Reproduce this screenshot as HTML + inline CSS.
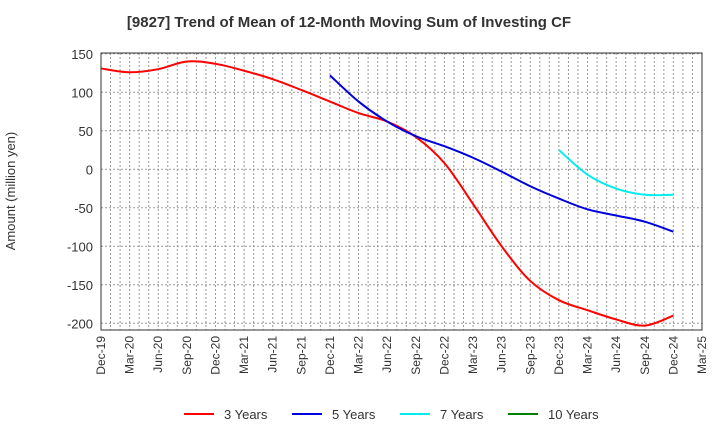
<!DOCTYPE html>
<html><head><meta charset="utf-8"><style>
body{margin:0;background:#fff;font-family:"Liberation Sans",sans-serif}
</style></head><body>
<svg id="c" width="720" height="440" xmlns="http://www.w3.org/2000/svg">
<text x="349" y="27" text-anchor="middle" font-size="15" font-weight="bold" fill="#333">[9827]  Trend of Mean of 12-Month Moving Sum of Investing CF</text>
<text transform="translate(15,191) rotate(-90)" text-anchor="middle" font-size="13" fill="#333">Amount (million yen)</text>
<g id="grid"></g><g id="series"></g><g id="axes"></g><g id="legend"></g>
</svg>
<script>
const xLabels=["Dec-19","Mar-20","Jun-20","Sep-20","Dec-20","Mar-21","Jun-21","Sep-21","Dec-21","Mar-22","Jun-22","Sep-22","Dec-22","Mar-23","Jun-23","Sep-23","Dec-23","Mar-24","Jun-24","Sep-24","Dec-24","Mar-25"];
const yTicks=[150,100,50,0,-50,-100,-150,-200];
const s3=[131,126,130,140,137,128,117,103,88,73,62,42,8,-45,-100,-145,-170,-183,-195,-203,-190];
const s5=[null,null,null,null,null,null,null,null,122,88,62,43,30,15,-3,-22,-38,-52,-60,-68,-81];
const s7=[null,null,null,null,null,null,null,null,null,null,null,null,null,null,null,null,25,-7,-25,-33,-33];
const s10=[];
const L=101,R=702,T=53,B=330;
const x=i=>L+i*(R-L)/21;
const y=v=>169.3-v*0.77;
const ns="http://www.w3.org/2000/svg";
function mk(tag,at,parent){const e=document.createElementNS(ns,tag);for(const k in at)e.setAttribute(k,at[k]);document.getElementById(parent).appendChild(e);return e;}
for(let m=1;m<63;m++){const xx=L+m*(R-L)/63;const g=mk("line",{x1:xx,x2:xx,y1:T,y2:B,stroke:"#999","stroke-dasharray":"2,2","stroke-width":1},"grid");

}
yTicks.forEach(v=>{const g=mk("line",{x1:L,x2:R,y1:y(v),y2:y(v),stroke:"#999","stroke-dasharray":"2,2","stroke-width":1},"grid");


const t=mk("text",{x:L-8,y:y(v)+5,"text-anchor":"end","font-size":13,fill:"#333"},"axes");t.textContent=v;

});
const fr=mk("rect",{x:L,y:T,width:R-L,height:B-T,fill:"none",stroke:"#333","stroke-width":1},"axes");


xLabels.forEach((l,i)=>{const t=mk("text",{transform:`translate(${x(i)+4},${B+6}) rotate(-90)`,"text-anchor":"end","font-size":12,fill:"#333"},"axes");t.textContent=l;

});
function path(arr){const p=[];arr.forEach((v,i)=>{if(v!==null&&v!==undefined)p.push([x(i),y(v)]);});if(p.length<2)return "";
let d=`M${p[0][0]},${p[0][1]}`;for(let i=0;i<p.length-1;i++){const p0=p[i-1]||p[i],p1=p[i],p2=p[i+1],p3=p[i+2]||p2;
d+=` C${p1[0]+(p2[0]-p0[0])/6},${p1[1]+(p2[1]-p0[1])/6} ${p2[0]-(p3[0]-p1[0])/6},${p2[1]-(p3[1]-p1[1])/6} ${p2[0]},${p2[1]}`;}return d;}
const S=[[s3,"#ff0000","3 Years","series-3-years"],[s5,"#0000dd","5 Years","series-5-years"],[s7,"#00eeee","7 Years","series-7-years"],[s10,"#008000","10 Years","series-10-years"]];
S.forEach((s,k)=>{const d=path(s[0]);if(d){const e=mk("path",{d:d,fill:"none",stroke:s[1],"stroke-width":2},"series");

}
const lx=184+k*108;
const ll=mk("line",{x1:lx,x2:lx+30,y1:414,y2:414,stroke:s[1],"stroke-width":2},"legend");


const t=mk("text",{x:lx+40,y:419,"font-size":13,fill:"#333"},"legend");t.textContent=s[2];

});
</script>
</body></html>
